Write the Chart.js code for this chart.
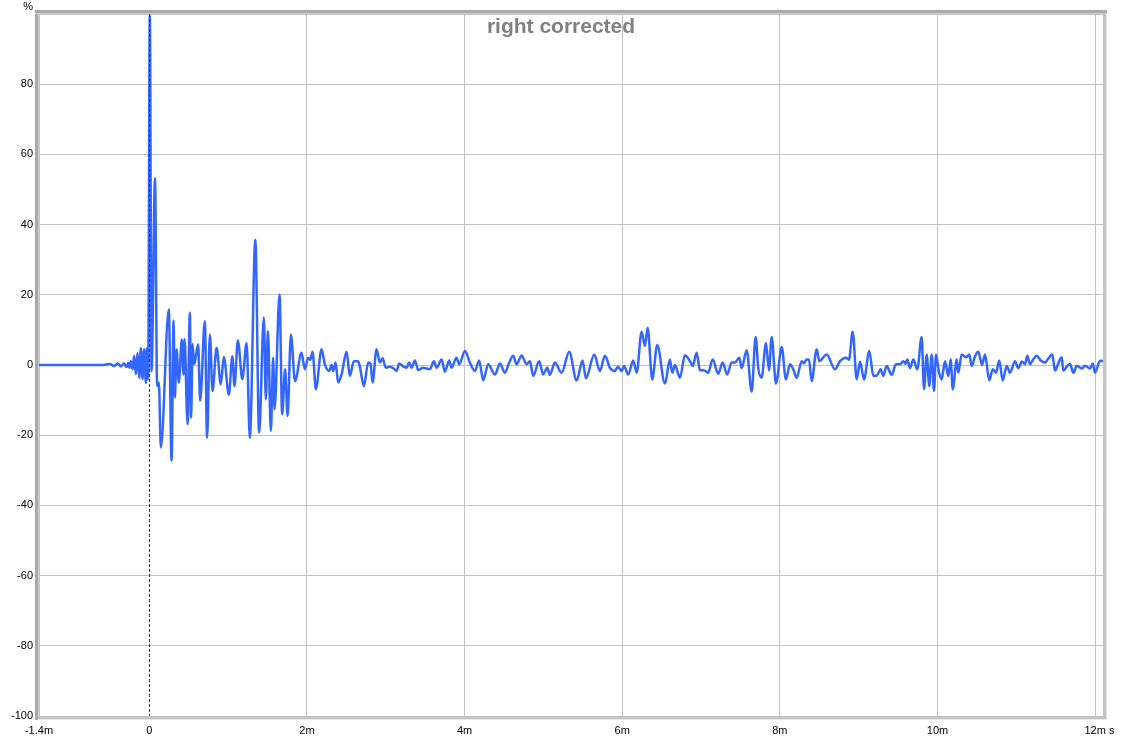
<!DOCTYPE html>
<html>
<head>
<meta charset="utf-8">
<script src="https://cdn.jsdelivr.net/npm/chart.js@4/dist/chart.umd.min.js"></script>
<style>
  html, body { margin: 0; padding: 0; background: #fff; }
  #wrap { width: 1123px; height: 740px; }
</style>
</head>
<body>
<div id="wrap"><canvas id="irChart" width="1123" height="740"></canvas></div>
<script>
// impulse response, time in ms, amplitude in %
const timeMs = [
  -1.4, -0.9, -0.6, -0.5, -0.45, -0.4, -0.36, -0.32, -0.29, -0.269,
  -0.252, -0.235, -0.213, -0.193, -0.171, -0.150, -0.129, -0.108, -0.086, -0.066,
  -0.044, -0.032, -0.015, 0.006, 0.028, 0.072, 0.099, 0.121, 0.146, 0.247,
  0.282, 0.307, 0.324, 0.345, 0.374, 0.412, 0.434, 0.447, 0.485, 0.514,
  0.530, 0.548, 0.569, 0.619, 0.645, 0.704, 0.733, 0.768, 0.802, 0.853,
  0.907, 0.945, 1.009, 1.053, 1.080, 1.123, 1.180, 1.234, 1.275, 1.345,
  1.393, 1.453, 1.478, 1.504, 1.542, 1.571, 1.589, 1.652, 1.685, 1.723,
  1.754, 1.796, 1.849, 1.931, 1.973, 2.015, 2.043, 2.071, 2.113, 2.185,
  2.227, 2.282, 2.312, 2.332, 2.363, 2.396, 2.439, 2.503, 2.544, 2.595,
  2.650, 2.671, 2.722, 2.777, 2.807, 2.832, 2.883, 2.925, 2.959, 3.001,
  3.039, 3.090, 3.137, 3.170, 3.217, 3.264, 3.297, 3.327, 3.369, 3.411,
  3.471, 3.518, 3.560, 3.610, 3.645, 3.708, 3.750, 3.805, 3.835, 3.898,
  3.931, 4.004, 4.067, 4.131, 4.185, 4.236, 4.299, 4.385, 4.448, 4.511,
  4.566, 4.617, 4.660, 4.723, 4.787, 4.829, 4.871, 4.947, 4.997, 5.048,
  5.082, 5.146, 5.231, 5.327, 5.421, 5.497, 5.539, 5.645, 5.717, 5.780,
  5.844, 5.907, 5.945, 5.992, 6.022, 6.076, 6.140, 6.183, 6.246, 6.288,
  6.322, 6.381, 6.444, 6.542, 6.605, 6.634, 6.669, 6.732, 6.796, 6.859,
  6.893, 6.944, 6.986, 7.036, 7.091, 7.147, 7.218, 7.274, 7.332, 7.388,
  7.430, 7.485, 7.515, 7.579, 7.642, 7.693, 7.726, 7.769, 7.824, 7.862,
  7.896, 7.951, 8.023, 8.077, 8.128, 8.166, 8.213, 8.277, 8.306, 8.340,
  8.369, 8.404, 8.467, 8.500, 8.594, 8.699, 8.763, 8.839, 8.877, 8.924,
  8.975, 9.017, 9.068, 9.135, 9.185, 9.232, 9.279, 9.312, 9.355, 9.419,
  9.473, 9.524, 9.566, 9.594, 9.617, 9.651, 9.693, 9.744, 9.799, 9.829,
  9.863, 9.896, 9.926, 9.956, 9.981, 10.019, 10.053, 10.095, 10.137, 10.168,
  10.193, 10.244, 10.264, 10.307, 10.362, 10.404, 10.434, 10.476, 10.518, 10.565,
  10.603, 10.657, 10.701, 10.742, 10.784, 10.827, 10.878, 10.920, 10.983, 11.025,
  11.072, 11.110, 11.140, 11.174, 11.212, 11.259, 11.313, 11.364, 11.402, 11.457,
  11.491, 11.529, 11.576, 11.596, 11.640, 11.681, 11.723, 11.770, 11.830, 11.872,
  11.935, 11.970, 11.999, 12.062, 12.104
];
const amplitude = [
  0, 0, 0, 0.3, -0.3, 0.4, -0.4, 0.5, -0.6, 0.6,
  -0.8, 1.1, -1.2, 2.6, -2.6, 3.4, -3.7, 4.8, -4, 4.5,
  -5.1, 4.8, -4, 99.5, -1.7, 53.3, -6, -5, -23.5, 15.8,
  -27.3, 12.7, -9.3, 4.5, -5, 7.3, -2.7, 7.4, -16.9, 14.9,
  -15, 6, 0.2, 5.9, -10.2, 12.5, -20.7, 8.7, -7.4, 4.9,
  -5.5, 2.3, -8.5, 2.5, -6, 7, -4, 6.3, -20.7, 35.7,
  -19.3, 13.5, -9.8, 9.7, -18.8, 2.1, -12.6, 20.1, -14, -1.2,
  -14.5, 8.7, -4.6, 3.5, -1.2, 2.1, 1.5, 3.8, -6.9, 4.5,
  0.2, -1.7, 0, -1.7, 0.7, -5, -2.7, 3.8, -3.1, 1.1,
  1.1, -0.5, -6, 0.7, 0.3, -5, 4.5, 0.7, 1.9, -0.8,
  -0.5, -0.8, -1.7, 0.4, -0.3, -0.8, 0.7, -0.8, 1.3, -1.5,
  -0.8, -1.0, -1.2, 1.1, -0.8, 1.6, -1.9, 1.3, -0.8, 2.1,
  0.2, 4, 0.7, -1.7, 1.3, -4.4, 0.2, -2.7, 0.4, -2.2,
  0.7, 2.6, 0.2, 2.7, 0.2, 1.1, -3.1, 1.1, -2.7, -0.8,
  -2.8, 0.7, -2.2, 3.8, -4.4, 1.3, -3.8, 3, -1.7, 2.6,
  -0.8, -1.7, -0.5, -1.7, -0.3, -2.7, 1.3, -2.2, 9.5, 5.4,
  10.6, -4.1, 5.7, -5.3, 1.6, -2.2, 0, -3.6, 2.8, 1.1,
  -0.3, 3.5, -1.5, -1.5, -2.2, 1.6, -2.5, 0.7, -2.7, 0.7,
  0.7, 2.1, -0.9, 4.2, -7.6, 8, -0.9, -3.6, 6.3, -1.5,
  8, -5.3, 5.1, -4.1, 0.2, -1, -3.6, 1.1, 0.5, 1.6,
  1.6, -4.6, 4.5, 1.1, 3, -1.2, 1.1, 2.1, 1.5, 9.5,
  -4.1, 1, -4.1, 4, -3.1, -3, -1.2, -3.1, -0.3, -2.8,
  0.2, 0.2, 1.1, 0.3, 1.6, -0.9, 1.6, -1.2, 8, -6.9,
  3, -6, 3, -7.4, 3, -2, -4.1, 1.1, -3.1, 1.6,
  -6.9, 1.6, -2.2, 3, 2.2, 3, -0.3, 2.5, 3.8, 0,
  3, -4.4, -1.2, -2.2, 1.3, -4.4, -0.3, -2.2, 1.1, -0.9,
  1.0, 0.2, 2.6, 0.2, 1.5, 2.6, 1.2, 0.7, 1.7, 3,
  -1.6, 0.2, 2.2, -1.6, -0.5, 0.3, -2.2, -0.2, -1.0, -0.2,
  -1.0, 0.4, -2.2, 1.2, 1.1
];
const xTicks = [-1.4, 0, 2, 4, 6, 8, 10, 12];
const yTicks = [-100, -80, -60, -40, -20, 0, 20, 40, 60, 80, 100];

const points = timeMs.map((t, i) => ({ x: t, y: amplitude[i] }));

// frame, title, unit labels and the red t=0 marker
const decor = {
  id: 'decor',
  afterDatasetsDraw(chart) {
    const { ctx, chartArea: a, scales } = chart;
    const x0 = Math.round(scales.x.getPixelForValue(0)) + 0.5;
    ctx.save();
    ctx.strokeStyle = '#c00000';
    ctx.lineWidth = 1;
    ctx.setLineDash([3, 2]);
    ctx.beginPath();
    ctx.moveTo(x0, a.top);
    ctx.lineTo(x0, a.bottom);
    ctx.stroke();
    ctx.setLineDash([]);
    ctx.restore();
  },
  afterDraw(chart) {
    const { ctx, chartArea: a } = chart;
    ctx.save();
    // 3d-ish border
    ctx.fillStyle = '#a9a9a9';
    ctx.fillRect(a.left - 4, a.top - 4, a.right - a.left + 8, 3);
    ctx.fillRect(a.left - 4, a.top - 4, 3, a.bottom - a.top + 8);
    ctx.fillStyle = '#d0d0d0';
    ctx.fillRect(a.left - 4, a.top - 1, a.right - a.left + 8, 1);
    ctx.fillRect(a.left - 1, a.top - 1, 1, a.bottom - a.top + 2);
    ctx.fillStyle = '#c4c4c4';
    ctx.fillRect(a.left - 1, a.bottom, a.right - a.left + 5, 3);
    ctx.fillRect(a.right, a.top - 1, 3, a.bottom - a.top + 4);
    ctx.fillStyle = '#e6e6e6';
    ctx.fillRect(a.left - 1, a.bottom + 3, a.right - a.left + 5, 1);
    ctx.fillRect(a.right + 3, a.top - 1, 1, a.bottom - a.top + 5);

    ctx.fillStyle = '#808080';
    ctx.font = 'bold 21px "Liberation Sans", Arial, sans-serif';
    ctx.textAlign = 'center';
    ctx.textBaseline = 'alphabetic';
    ctx.fillText('right corrected', 561, 33);

    ctx.fillStyle = '#000';
    ctx.font = '11px "Liberation Sans", Arial, sans-serif';
    ctx.textAlign = 'right';
    ctx.fillText('%', 33, 10);
    ctx.textAlign = 'left';
    ctx.fillText('s', 1109, 734);
    ctx.restore();
  }
};

new Chart(document.getElementById('irChart'), {
  type: 'line',
  data: {
    datasets: [{
      data: points,
      borderColor: '#3366ff',
      borderWidth: 2.5,
      pointRadius: 0,
      cubicInterpolationMode: 'monotone',
      fill: false
    }]
  },
  options: {
    responsive: false,
    animation: false,
    layout: { padding: { top: 14, right: 20, left: 0, bottom: 0 } },
    plugins: { legend: { display: false }, tooltip: { enabled: false } },
    scales: {
      x: {
        type: 'linear',
        min: -1.4,
        max: 12.1,
        afterBuildTicks: s => { s.ticks = xTicks.map(v => ({ value: v })); },
        afterFit: s => { s.height = 24; },
        border: { display: false },
        grid: {
          drawTicks: false,
          color: c => (c.tick && c.tick.value === 0) ? 'rgba(0,0,0,0)' : '#c3c3c3'
        },
        ticks: {
          padding: 8,
          maxRotation: 0,
          autoSkip: false,
          color: '#000',
          font: { family: '"Liberation Sans", Arial, sans-serif', size: 11 },
          callback: v => v === 0 ? '0' : v + 'm'
        }
      },
      y: {
        min: -100,
        max: 100,
        afterBuildTicks: s => { s.ticks = yTicks.map(v => ({ value: v })); },
        afterFit: s => { s.width = 39; },
        border: { display: false },
        grid: { drawTicks: false, color: '#c3c3c3' },
        ticks: {
          padding: 6,
          color: '#000',
          font: { family: '"Liberation Sans", Arial, sans-serif', size: 11 },
          callback: v => v === 100 ? '' : v
        }
      }
    }
  },
  plugins: [decor]
});
</script>
</body>
</html>
